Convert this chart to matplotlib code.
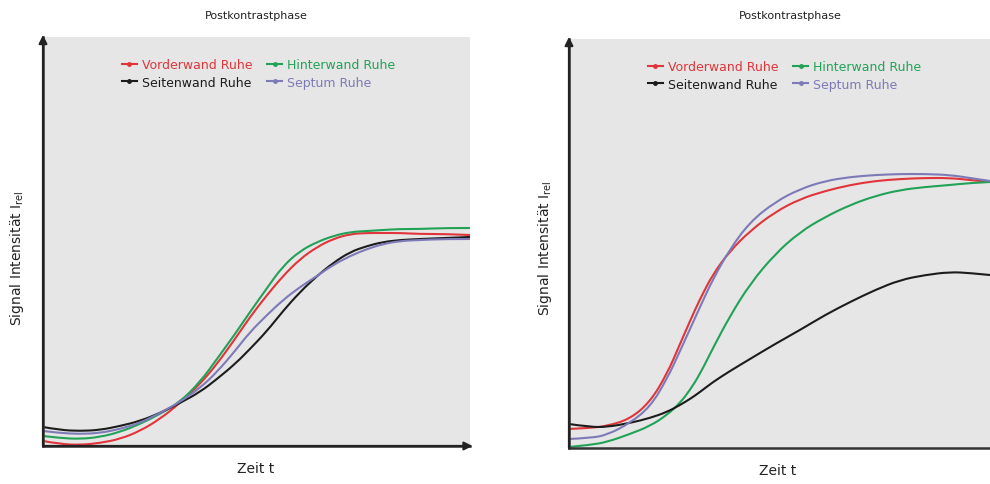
import matplotlib.pyplot as plt
from matplotlib.lines import Line2D
from matplotlib.path import Path
from matplotlib.patches import PathPatch

# Relative signal intensity over time, rest, post-contrast phase
t_left = [0, 17, 37, 57, 77, 97, 117, 137, 157, 174, 192, 207, 224, 240, 257, 274,
          290, 307, 324, 340, 357, 377, 402, 427]
vorder_left = [5, 2, 1, 3, 7, 15, 27, 43, 62, 82, 107, 129, 151, 170, 187, 199,
               207, 212, 213, 213, 213, 212, 212, 211]
hinter_left = [10, 8, 7, 9, 14, 22, 32, 44, 64, 87, 112, 134, 158, 180, 195, 204,
               210, 214, 215, 216, 217, 217, 218, 218]
seiten_left = [19, 16, 15, 16, 20, 25, 33, 43, 54, 67, 82, 97, 115, 135, 154, 170,
               183, 194, 200, 204, 206, 207, 208, 209]
septum_left = [15, 13, 12, 13, 17, 23, 33, 44, 58, 74, 95, 114, 131, 146, 159, 170,
               181, 190, 197, 202, 205, 206, 207, 207]

t_right = [0, 21, 38, 61, 81, 98, 111, 121, 131, 144, 161, 181, 206, 231, 256, 281,
           306, 331, 356, 381, 401, 421]
vorder_right = [19, 20, 22, 29, 46, 74, 104, 127, 149, 174, 197, 217, 236, 249, 257, 263,
                267, 269, 270, 270, 268, 266]
hinter_right = [1, 3, 6, 14, 22, 33, 45, 58, 74, 100, 132, 164, 194, 216, 231, 243,
                252, 258, 261, 263, 265, 266]
seiten_right = [24, 21, 21, 25, 30, 36, 43, 49, 56, 66, 77, 89, 104, 118, 133, 146,
                158, 168, 173, 176, 175, 173]
septum_right = [9, 10, 13, 25, 41, 69, 97, 119, 141, 169, 199, 226, 246, 259, 267, 271,
                273, 274, 274, 273, 270, 267]

labels = ['Vorderwand Ruhe', 'Hinterwand Ruhe', 'Seitenwand Ruhe', 'Septum Ruhe']
colors = ['#e0353a', '#21a257', '#1c1c1c', '#7d7ab8']

plt.rcParams['font.family'] = 'DejaVu Sans'

fig = plt.figure(figsize=(9.9, 4.85), dpi=100)
W, H = 990, 485


def smooth_path(t, y):
    # quadratic bezier through the midpoints, control points at the samples
    pts = list(zip(t, y))
    verts = [pts[0]]
    codes = [Path.MOVETO]
    for i in range(1, len(pts) - 1):
        mid = ((pts[i][0] + pts[i + 1][0]) / 2, (pts[i][1] + pts[i + 1][1]) / 2)
        if i == len(pts) - 2:
            mid = pts[-1]
        verts += [pts[i], mid]
        codes += [Path.CURVE3, Path.CURVE3]
    return Path(verts, codes)


def panel(x0, y0, t, series, xarrow=True):
    ax = fig.add_axes([x0 / W, (H - y0) / H, 427 / W, 409 / H])
    ax.set_facecolor('#e6e6e6')
    for y, c in zip(series, colors):
        ax.add_patch(PathPatch(smooth_path(t, y), fill=False, edgecolor=c, lw=1.5))
    ax.set_xlim(0, 427)
    ax.set_ylim(0, 409)
    ax.set_xticks([])
    ax.set_yticks([])
    for s in ['top', 'right']:
        ax.spines[s].set_visible(False)
    for s in ['left', 'bottom']:
        ax.spines[s].set_color('#333333')
        ax.spines[s].set_linewidth(1.8)
    ax.annotate('', xy=(0, 1.005), xytext=(0, 0), xycoords='axes fraction',
                arrowprops=dict(arrowstyle='-|>', color='#222222', lw=1.6,
                                mutation_scale=12, shrinkA=0, shrinkB=0))
    if xarrow:
        ax.annotate('', xy=(1.006, 0), xytext=(0, 0), xycoords='axes fraction',
                    arrowprops=dict(arrowstyle='-|>', color='#222222', lw=1.6,
                                    mutation_scale=12, shrinkA=0, shrinkB=0))
    handles = [Line2D([], [], color=c, lw=1.5, marker='o', ms=2.5) for c in colors]
    # row-wise: Vorderwand, Hinterwand / Seitenwand, Septum
    order = [0, 2, 1, 3]
    ax.legend([handles[i] for i in order], [labels[i] for i in order],
              loc='upper center', bbox_to_anchor=(0.505, 0.975), ncol=2,
              frameon=False, fontsize=9, handlelength=1.2, handletextpad=0.4,
              columnspacing=1.2, labelspacing=0.35, numpoints=1,
              labelcolor='linecolor')
    return ax


panel(43, 447, t_left, [vorder_left, hinter_left, seiten_left, septum_left])
panel(569, 449, t_right, [vorder_right, hinter_right, seiten_right, septum_right],
      xarrow=False)

ylab = r'Signal Intensität I$_\mathregular{rel}$'
for xc, yt, xl, yl in [(256, 16, 256, 469), (790, 16, 778, 471)]:
    fig.text(xc / W, 1 - yt / H, 'Postkontrastphase', ha='center', va='center',
             fontsize=8, color='#222222')
    fig.text(xl / W, 1 - yl / H, 'Zeit t', ha='center', va='center',
             fontsize=10, color='#222222')
for x, yc in [(17, 258), (545, 248)]:
    fig.text(x / W, 1 - yc / H, ylab, ha='center', va='center', rotation=90,
             fontsize=10, color='#222222')

fig.savefig('out.png', dpi=100)
